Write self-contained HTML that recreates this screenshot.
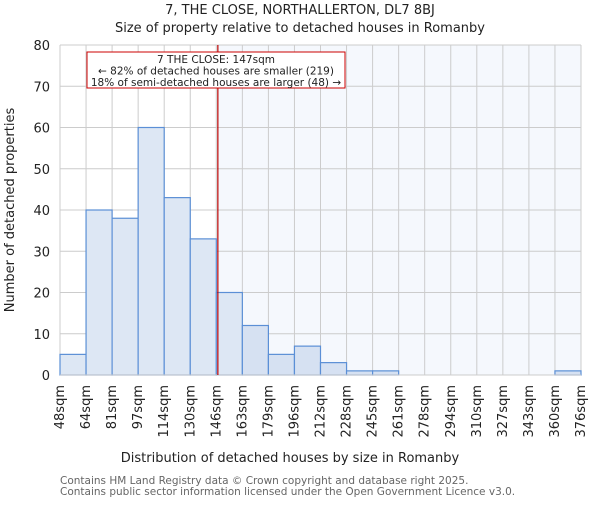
<!DOCTYPE html>
<html><head><meta charset="utf-8"><style>
body{margin:0;background:#fff}
svg text{font-family:"DejaVu Sans","Liberation Sans",sans-serif;fill:#222}
</style></head><body>
<svg id="c" width="600" height="500"></svg>
<script>
const binEdges=["48sqm","64sqm","81sqm","97sqm","114sqm","130sqm","146sqm","163sqm","179sqm","196sqm","212sqm","228sqm","245sqm","261sqm","278sqm","294sqm","310sqm","327sqm","343sqm","360sqm","376sqm"];
const counts=[5,40,38,60,43,33,20,12,5,7,3,1,1,0,0,0,0,0,0,1];
const yTicks=[0,10,20,30,40,50,60,70,80];
const markerBin=6.06;
const NS="http://www.w3.org/2000/svg";
const svg=document.getElementById('c');
const L=60,R=581,T=45,B=375,yMax=80;
const n=counts.length,bw=(R-L)/n;
const x=i=>L+i*bw, y=v=>B-(v/yMax)*(B-T);
function el(t,a,p){const e=document.createElementNS(NS,t);for(const k in a)e.setAttribute(k,a[k]);(p||svg).appendChild(e);return e;}
let e;
e=el('rect',{x:L,y:T,width:R-L,height:B-T,fill:'#fff'});


e=el('rect',{x:x(markerBin),y:T,width:R-x(markerBin),height:B-T,fill:'#f5f8fd'});


for(let i=0;i<=n;i++){e=el('line',{x1:x(i),x2:x(i),y1:T,y2:B,stroke:'#cccccc','stroke-width':1});

}
yTicks.forEach(v=>{e=el('line',{x1:L,x2:R,y1:y(v),y2:y(v),stroke:'#cccccc','stroke-width':1});


e=el('text',{x:L-10,y:y(v)+5,'text-anchor':'end','font-size':13});e.textContent=v;

});
counts.forEach((c,i)=>{if(c<=0)return;e=el('rect',{x:x(i),y:y(c),width:bw,height:B-y(c),fill:i<markerBin?'#dde7f4':'#d6e1f2',stroke:'#5b8fd6','stroke-width':1.2});

});
e=el('line',{x1:L,x2:R,y1:B,y2:B,stroke:'#cccccc','stroke-width':1});


e=el('line',{x1:x(markerBin),x2:x(markerBin),y1:T,y2:B,stroke:'#bb0000','stroke-width':1.2});


binEdges.forEach((lb,i)=>{const px=x(i)+4;e=el('text',{x:0,y:0,transform:`translate(${px},${B+10}) rotate(-90)`,'text-anchor':'end','font-size':13});e.textContent=lb;

});
const g=el('g',{});


el('rect',{x:87,y:52,width:258,height:36,fill:'#fff',stroke:'#cc0000','stroke-width':1},g);
[["7 THE CLOSE: 147sqm",63],["← 82% of detached houses are smaller (219)",74.5],["18% of semi-detached houses are larger (48) →",86]].forEach(([t,yy])=>{e=el('text',{x:216,y:yy,'text-anchor':'middle','font-size':10.5},g);e.textContent=t;

});
function txt(t,a,name){e=el('text',a);e.textContent=t;}
txt("7, THE CLOSE, NORTHALLERTON, DL7 8BJ",{x:300,y:14,'text-anchor':'middle','font-size':13},'chart-title');
txt("Size of property relative to detached houses in Romanby",{x:300,y:32,'text-anchor':'middle','font-size':13},'chart-subtitle');
txt("Number of detached properties",{transform:'translate(14,210) rotate(-90)','text-anchor':'middle','font-size':13},'y-axis-title');
txt("Distribution of detached houses by size in Romanby",{x:290,y:462,'text-anchor':'middle','font-size':13},'x-axis-title');
txt("Contains HM Land Registry data © Crown copyright and database right 2025.",{x:60,y:484,'font-size':10.5,style:'fill:#666'},'footer-line-1');
txt("Contains public sector information licensed under the Open Government Licence v3.0.",{x:60,y:495,'font-size':10.5,style:'fill:#666'},'footer-line-2');
</script>
</body></html>
